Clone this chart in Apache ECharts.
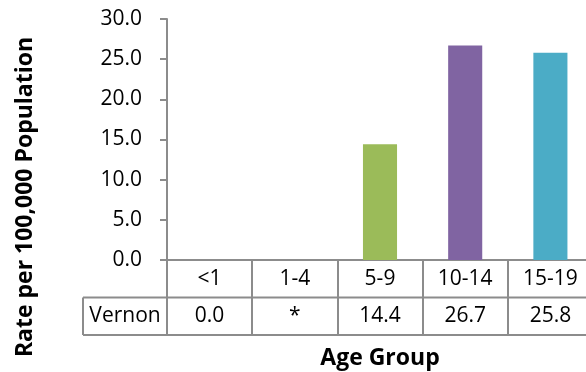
<!DOCTYPE html>
<html><head><meta charset="utf-8">
<script src="https://cdn.jsdelivr.net/npm/echarts@6/dist/echarts.min.js"></script>
<style>html,body{margin:0;padding:0;background:#fff}#c{width:586px;height:372px}</style>
</head><body><div id="c"></div>
<script>
// ---- data ----
const categories = ['<1', '1-4', '5-9', '10-14', '15-19'];
const seriesName = 'Vernon';
const values = [0.0, null, 14.4, 26.7, 25.8];   // null = suppressed
const suppressedMark = '*';
const barColors = ['#4F81BD', '#C0504D', '#9BBB59', '#8064A2', '#4BACC6'];
const yMin = 0, yMax = 30, yStep = 5;
const yTitle = 'Rate per 100,000 Population';
const xTitle = 'Age Group';

// ---- layout ----
const FONT = '"Open Sans", sans-serif';
const GRAY = '#8c8c8c';
const G = { left: 167, top: 19, width: 426, bottom: 112 };
const W = 586, H = 372;
const ROW = 37.5;
const tableLeft = 83;

const chart = echarts.init(document.getElementById('c'), null, { renderer: 'canvas' });
const zeroY = H - G.bottom;
const gridRight = G.left + G.width;

chart.setOption({
  animation: false,
  grid: { left: G.left, top: G.top, width: G.width, bottom: G.bottom, containLabel: false, outerBoundsMode: 'none' },
  xAxis: [
    {
      type: 'category', data: categories, position: 'bottom',
      axisLine: { show: true, lineStyle: { color: GRAY, width: 2 } },
      axisTick: { show: true, length: ROW * 2, lineStyle: { color: GRAY, width: 2 } },
      axisLabel: { color: '#000', fontFamily: FONT, fontSize: 21, margin: 8, lineHeight: 22 }
    },
    {
      type: 'category', data: values.map(v => v === null ? suppressedMark : v.toFixed(1)),
      position: 'bottom', offset: ROW,
      axisLine: { show: false }, axisTick: { show: false },
      axisLabel: { color: '#000', fontFamily: FONT, fontSize: 21, margin: 8, lineHeight: 22 }
    }
  ],
  yAxis: {
    type: 'value', min: yMin, max: yMax, interval: yStep,
    axisLine: { show: true, lineStyle: { color: GRAY, width: 2 } },
    axisTick: { show: true, length: 7, lineStyle: { color: GRAY, width: 2 } },
    splitLine: { show: false },
    axisLabel: { color: '#000', fontFamily: FONT, fontSize: 21, margin: 25, formatter: v => v.toFixed(1) }
  },
  series: [{
    name: seriesName, type: 'bar', xAxisIndex: 0, barWidth: '40%',
    data: values.map((v, i) => ({ value: v, itemStyle: { color: barColors[i] } }))
  }],
  graphic: [
    { type: 'line', shape: { x1: tableLeft, y1: zeroY + ROW, x2: gridRight, y2: zeroY + ROW }, style: { stroke: GRAY, lineWidth: 2 } },
    { type: 'line', shape: { x1: tableLeft, y1: zeroY + 2 * ROW, x2: gridRight, y2: zeroY + 2 * ROW }, style: { stroke: GRAY, lineWidth: 2 } },
    { type: 'line', shape: { x1: tableLeft, y1: zeroY + ROW, x2: tableLeft, y2: zeroY + 2 * ROW }, style: { stroke: GRAY, lineWidth: 2 } },
    { type: 'text', x: (tableLeft + G.left) / 2, y: zeroY + 1.5 * ROW,
      style: { text: seriesName, fontFamily: FONT, fontSize: 21, fill: '#000', align: 'center', verticalAlign: 'middle' } },
    { type: 'text', x: 380, y: 358,
      style: { text: xTitle, fontFamily: FONT, fontSize: 23, fontWeight: 'bold', fill: '#000', align: 'center', verticalAlign: 'middle' } },
    { type: 'text', x: 25, y: 197, rotation: Math.PI / 2,
      style: { text: yTitle, fontFamily: FONT, fontSize: 23, fontWeight: 'bold', fill: '#000', align: 'center', verticalAlign: 'middle' } }
  ]
});
</script></body></html>
